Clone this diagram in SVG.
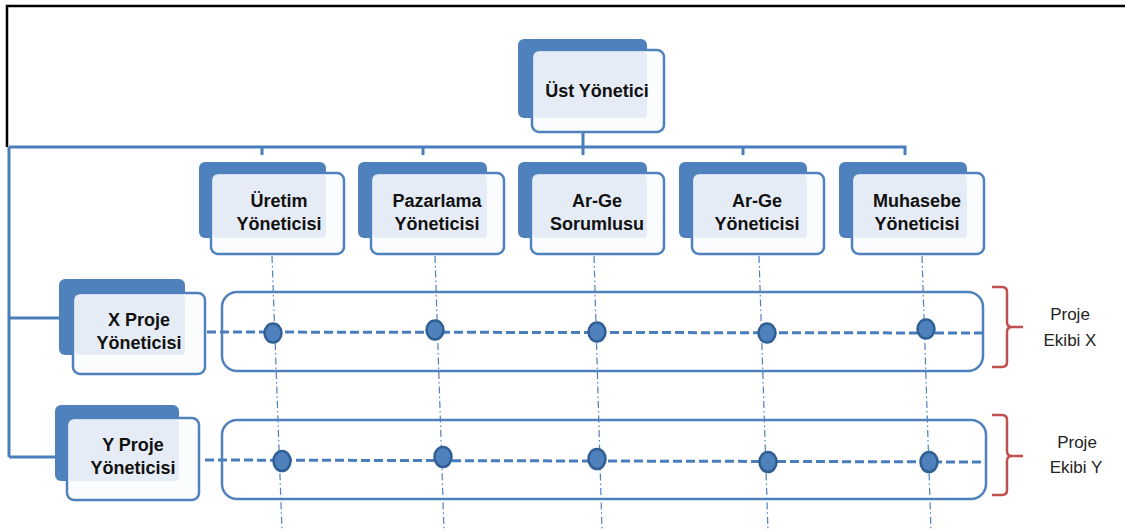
<svg xmlns="http://www.w3.org/2000/svg" width="1125" height="531" viewBox="0 0 1125 531">
  <style>
    .frame { fill: none; stroke: #000; stroke-width: 2.5; }
    .tree { fill: none; stroke: #4a7ebb; stroke-width: 3; }
    .drop { fill: none; stroke: #4f81bd; stroke-width: 1.2; stroke-dasharray: 7 3 1.5 3; }
    .team-line { fill: none; stroke: #4a7ebb; stroke-width: 3; stroke-dasharray: 9 4; }
    .team { fill: none; stroke: #4f81bd; stroke-width: 2.5; }
    .dot { fill: #4f81bd; stroke: #2f5f94; stroke-width: 2.5; }
    .back { fill: #4f81bd; }
    .front { fill: #fbfcfe; stroke: #4f81bd; stroke-width: 2.5; }
    .inner { fill: #e6ecf5; }
    .label { font-family: "Liberation Sans", Arial, sans-serif; font-size: 18px; font-weight: bold; fill: #111; text-anchor: middle; }
    .brace { fill: none; stroke: #c0504d; stroke-width: 2.5; }
    .note { font-family: "Liberation Sans", Arial, sans-serif; font-size: 17px; fill: #222; text-anchor: middle; }
  </style>

  <!-- page frame (top and left edges) -->
  <path class="frame" d="M7,147 V6 H1125"/>

  <!-- connectors -->
  <g id="connectors">
    <!-- functional drop lines -->
    <line class="drop" x1="272" y1="256" x2="282" y2="531"/>
    <line class="drop" x1="435" y1="256" x2="444" y2="531"/>
    <line class="drop" x1="594" y1="256" x2="602" y2="531"/>
    <line class="drop" x1="759" y1="256" x2="768" y2="531"/>
    <line class="drop" x1="922" y1="256" x2="931" y2="531"/>
    <!-- reporting tree -->
    <path class="tree" d="M583,118 V155"/>
    <path class="tree" d="M9,147 H905 V155"/>
    <path class="tree" d="M262,147 V155 M423,147 V155 M743,147 V155"/>
    <path class="tree" d="M9,147 V457 M9,318 H59 M9,457 H55"/>
    <!-- project team lines -->
    <line class="team-line" x1="207" y1="332" x2="983" y2="333"/>
    <line class="team-line" x1="205" y1="460" x2="986" y2="462"/>
  </g>

  <!-- project teams -->
  <g id="team-x">
    <rect class="team" x="222" y="292" width="761" height="79" rx="15"/>
    <ellipse class="dot" cx="273" cy="333" rx="8.5" ry="9.5"/>
    <ellipse class="dot" cx="435" cy="330" rx="8.5" ry="9.5"/>
    <ellipse class="dot" cx="597" cy="332" rx="8.5" ry="9.5"/>
    <ellipse class="dot" cx="767" cy="333" rx="8.5" ry="9.5"/>
    <ellipse class="dot" cx="926" cy="329" rx="8.5" ry="9.5"/>
    <path class="brace" d="M992,287 H1002 Q1007,287 1007,292 V322 Q1007,327 1012,327 H1023 M1012,327 Q1007,327 1007,332 V362 Q1007,367 1002,367 H992"/>
    <text class="note" x="1070" y="320">Proje</text>
    <text class="note" x="1070" y="346">Ekibi X</text>
  </g>

  <g id="team-y">
    <rect class="team" x="222" y="420" width="764" height="79" rx="15"/>
    <ellipse class="dot" cx="282" cy="461" rx="8.5" ry="10"/>
    <ellipse class="dot" cx="443" cy="457" rx="8.5" ry="10"/>
    <ellipse class="dot" cx="597" cy="459" rx="8.5" ry="10"/>
    <ellipse class="dot" cx="768" cy="462" rx="8.5" ry="10"/>
    <ellipse class="dot" cx="929" cy="462" rx="8.5" ry="10"/>
    <path class="brace" d="M992,415 H1002 Q1007,415 1007,420 V451 Q1007,456 1012,456 H1023 M1012,456 Q1007,456 1007,461 V490 Q1007,495 1002,495 H992"/>
    <text class="note" x="1077" y="448">Proje</text>
    <text class="note" x="1076" y="473">Ekibi Y</text>
  </g>

  <!-- top manager -->
  <g id="ust-yonetici">
    <rect class="back" x="518" y="39" width="129" height="79" rx="6"/>
    <rect class="front" x="532" y="50" width="132" height="82" rx="7"/>
    <rect class="inner" x="534" y="52" width="113" height="66" rx="4"/>
    <text class="label" x="597" y="97">Üst Yönetici</text>
  </g>

  <!-- functional managers -->
  <g id="uretim">
    <rect class="back" x="199" y="162" width="127" height="76" rx="6"/>
    <rect class="front" x="211" y="173" width="133" height="81" rx="7"/>
    <rect class="inner" x="213" y="175" width="113" height="63" rx="4"/>
    <text class="label" x="279" y="207">Üretim</text>
    <text class="label" x="279" y="230">Yöneticisi</text>
  </g>

  <g id="pazarlama">
    <rect class="back" x="358" y="162" width="129" height="76" rx="6"/>
    <rect class="front" x="371" y="173" width="133" height="81" rx="7"/>
    <rect class="inner" x="373" y="175" width="114" height="63" rx="4"/>
    <text class="label" x="437" y="207">Pazarlama</text>
    <text class="label" x="437" y="230">Yöneticisi</text>
  </g>

  <g id="arge-sorumlusu">
    <rect class="back" x="518" y="162" width="129" height="76" rx="6"/>
    <rect class="front" x="531" y="173" width="133" height="81" rx="7"/>
    <rect class="inner" x="533" y="175" width="114" height="63" rx="4"/>
    <text class="label" x="597" y="207">Ar-Ge</text>
    <text class="label" x="597" y="230">Sorumlusu</text>
  </g>

  <g id="arge-yonetici">
    <rect class="back" x="679" y="162" width="128" height="76" rx="6"/>
    <rect class="front" x="692" y="173" width="132" height="81" rx="7"/>
    <rect class="inner" x="694" y="175" width="113" height="63" rx="4"/>
    <text class="label" x="757" y="207">Ar-Ge</text>
    <text class="label" x="757" y="230">Yöneticisi</text>
  </g>

  <g id="muhasebe">
    <rect class="back" x="839" y="162" width="128" height="76" rx="6"/>
    <rect class="front" x="852" y="173" width="132" height="81" rx="7"/>
    <rect class="inner" x="854" y="175" width="113" height="63" rx="4"/>
    <text class="label" x="917" y="207">Muhasebe</text>
    <text class="label" x="917" y="230">Yöneticisi</text>
  </g>

  <!-- project managers -->
  <g id="x-proje">
    <rect class="back" x="59" y="279" width="126" height="76" rx="6"/>
    <rect class="front" x="73" y="293" width="132" height="81" rx="7"/>
    <rect class="inner" x="75" y="295" width="110" height="60" rx="4"/>
    <text class="label" x="139" y="326">X Proje</text>
    <text class="label" x="139" y="349">Yöneticisi</text>
  </g>

  <g id="y-proje">
    <rect class="back" x="55" y="405" width="124" height="76" rx="6"/>
    <rect class="front" x="67" y="418" width="132" height="82" rx="7"/>
    <rect class="inner" x="69" y="420" width="110" height="61" rx="4"/>
    <text class="label" x="133" y="451">Y Proje</text>
    <text class="label" x="133" y="474">Yöneticisi</text>
  </g>
</svg>
